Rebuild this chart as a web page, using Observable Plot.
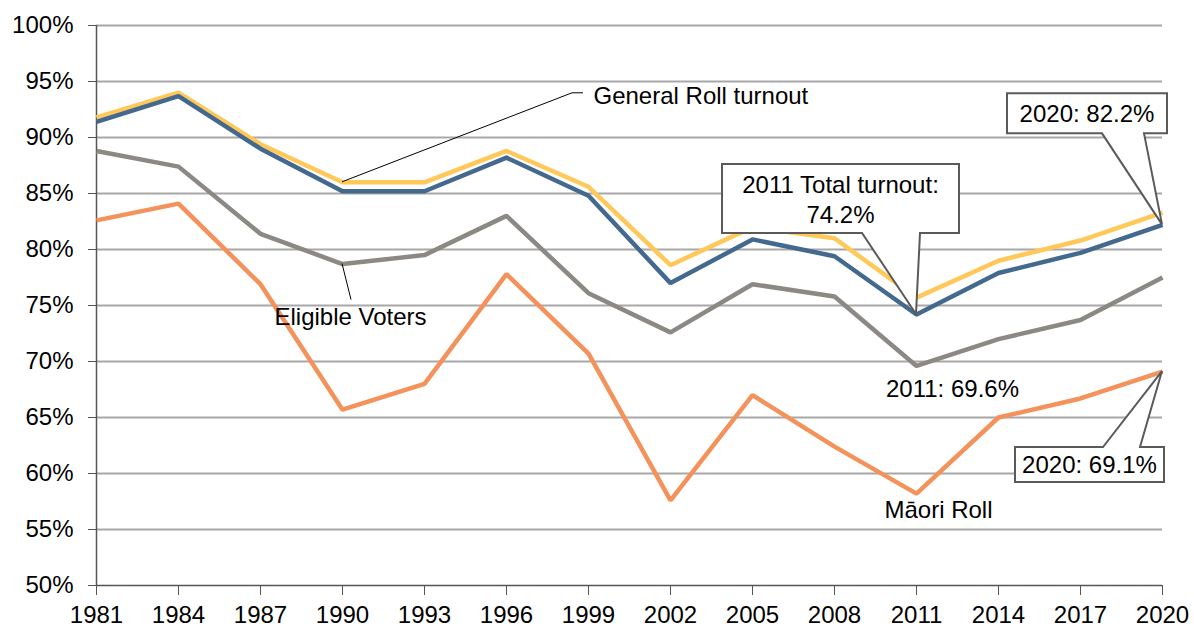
<!DOCTYPE html>
<html>
<head>
<meta charset="utf-8">
<script src="https://cdn.jsdelivr.net/npm/d3@7"></script>
<script src="https://cdn.jsdelivr.net/npm/@observablehq/plot@0.6"></script>
<style>
  html, body { margin: 0; padding: 0; background: #fff; }
</style>
</head>
<body>
<div id="chart"></div>
<script>
// ---- data ----
const years = [1981, 1984, 1987, 1990, 1993, 1996, 1999, 2002, 2005, 2008, 2011, 2014, 2017, 2020];
const maoriRoll = [82.6, 84.1, 76.9, 65.7, 68.0, 77.8, 70.7, 57.6, 67.0, 62.4, 58.2, 65.0, 66.7, 69.1];
const eligibleVoters = [88.8, 87.4, 81.4, 78.7, 79.5, 83.0, 76.1, 72.6, 76.9, 75.8, 69.6, 72.0, 73.7, 77.5];
const generalRoll = [91.8, 94.0, 89.4, 86.0, 86.0, 88.8, 85.6, 78.6, 82.0, 81.0, 75.7, 79.0, 80.8, 83.3];
const totalTurnout = [91.4, 93.7, 89.0, 85.2, 85.2, 88.2, 84.8, 77.0, 80.9, 79.4, 74.2, 77.9, 79.7, 82.2];
const seriesNames = ["Māori Roll", "Eligible Voters", "General Roll turnout", "Total turnout"];
const seriesColors = ["#F3925A", "#8C8884", "#FFC859", "#44698F"];
const yTicks = [50, 55, 60, 65, 70, 75, 80, 85, 90, 95, 100];
const gridTicks = [55, 60, 65, 70, 75, 80, 85, 90, 95, 100];

// labels anchored to data points
const labels = [
  {text: "2011: 69.6%", year: 2011, value: 69.6, dx: 36, dy: 23, anchor: "middle"},
  {text: "Māori Roll", year: 2011, value: 58.2, dx: 22, dy: 17, anchor: "middle"},
  {text: "Eligible Voters", year: 1990, value: 78.7, dx: 8, dy: 53, anchor: "middle"},
  {text: "General Roll turnout", year: 1990, value: 86.0, dx: 251, dy: -86, anchor: "start"}
];
// leader lines (pixel offsets from anchor point)
const leaders = [
  {year: 1990, value: 86.0, pts: [[0, 0], [230, -89], [241, -89]]},
  {year: 1990, value: 78.7, pts: [[0, 0], [9, 36]]}
];
// callout boxes
const callouts = [
  {year: 2011, value: 74.2, lines: ["2011 Total turnout:", "74.2%"], box: [-194, -150, 43, -81], wedge: [-54, 4], side: "bottom", tx: -75.5, baselines: [-121, -91]},
  {year: 2020, value: 82.2, lines: ["2020: 82.2%"], box: [-155, -131, 5, -91], wedge: [-60, -18], side: "bottom", tx: -75, baselines: [-102]},
  {year: 2020, value: 69.1, lines: ["2020: 69.1%"], box: [-147, 76, 2, 111], wedge: [-59, -22], side: "top", tx: -72.5, baselines: [102]}
];

const rows = [];
const allSeries = [maoriRoll, eligibleVoters, generalRoll, totalTurnout];
allSeries.forEach((vals, si) => {
  years.forEach((yr, i) => rows.push({series: seriesNames[si], year: yr, value: vals[i]}));
});

const FONT = "Arial, 'Liberation Sans', sans-serif";

function annotations(index, scales, values, dimensions) {
  let sx = scales && typeof scales.x === "function" ? scales.x : null;
  let sy = scales && typeof scales.y === "function" ? scales.y : null;
  if (!sx) sx = d3.scaleLinear([1981, 2020], [dimensions.marginLeft, dimensions.width - dimensions.marginRight]);
  if (!sy) sy = d3.scaleLinear([50, 100], [dimensions.height - dimensions.marginBottom, dimensions.marginTop]);
  const g = d3.create("svg:g");
  // leaders
  leaders.forEach(l => {
    const ax = sx(l.year), ay = sy(l.value);
    g.append("path")
      .attr("d", "M" + l.pts.map(p => [ax + p[0], ay + p[1]].join(",")).join("L"))
      .attr("fill", "none").attr("stroke", "#000").attr("stroke-width", 1);
  });
  // callouts
  callouts.forEach(c => {
    const ax = sx(c.year), ay = sy(c.value);
    const [l, t, r, b] = c.box;
    const [w1, w2] = c.wedge;
    let d;
    if (c.side === "bottom") {
      d = `M${ax + l},${ay + t}L${ax + r},${ay + t}L${ax + r},${ay + b}L${ax + w2},${ay + b}L${ax},${ay}L${ax + w1},${ay + b}L${ax + l},${ay + b}Z`;
    } else {
      d = `M${ax + l},${ay + t}L${ax + w1},${ay + t}L${ax},${ay}L${ax + w2},${ay + t}L${ax + r},${ay + t}L${ax + r},${ay + b}L${ax + l},${ay + b}Z`;
    }
    g.append("path").attr("d", d).attr("fill", "#fff").attr("stroke", "#5a5a5a").attr("stroke-width", 2).attr("stroke-linejoin", "miter");
    c.lines.forEach((txt, i) => {
      g.append("text").attr("x", ax + c.tx).attr("y", ay + c.baselines[i])
        .attr("text-anchor", "middle").attr("font-size", 24).attr("font-family", FONT).attr("fill", "#000")
        .text(txt);
    });
  });
  return g.node();
}

const labelMarks = labels.map(l =>
  Plot.text([l], {x: "year", y: "value", text: "text", dx: l.dx, dy: l.dy, textAnchor: l.anchor, fill: "#000", fontSize: 24})
);

const chart = Plot.plot({
  width: 1194,
  height: 627,
  marginLeft: 96,
  marginRight: 32,
  marginTop: 25,
  marginBottom: 42,
  style: {fontFamily: FONT, fontSize: "24px", color: "#000", background: "#fff", overflow: "visible"},
  x: {domain: [1981, 2020], label: null},
  y: {domain: [50, 100], label: null},
  color: {domain: seriesNames, range: seriesColors},
  marks: [
    Plot.ruleY(gridTicks, {stroke: "#A8A8A8", strokeWidth: 2}),
    Plot.axisY({ticks: yTicks, tickFormat: d => d + "%", tickSize: 8, tickPadding: 15, stroke: "#555", fill: "#000", label: null, fontSize: 24}),
    Plot.axisX({ticks: years, tickFormat: d => String(d), tickSize: 10, tickPadding: 10, stroke: "#555", fill: "#000", label: null, fontSize: 24}),
    Plot.ruleX([1981], {stroke: "#555", strokeWidth: 1.5}),
    Plot.ruleY([50], {stroke: "#555", strokeWidth: 1.5}),
    Plot.line(rows, {x: "year", y: "value", z: "series", stroke: "series", strokeWidth: 4.5, strokeLinejoin: "miter", strokeLinecap: "butt"}),
    ...labelMarks,
    annotations
  ]
});
document.getElementById("chart").appendChild(chart);
</script>
</body>
</html>
